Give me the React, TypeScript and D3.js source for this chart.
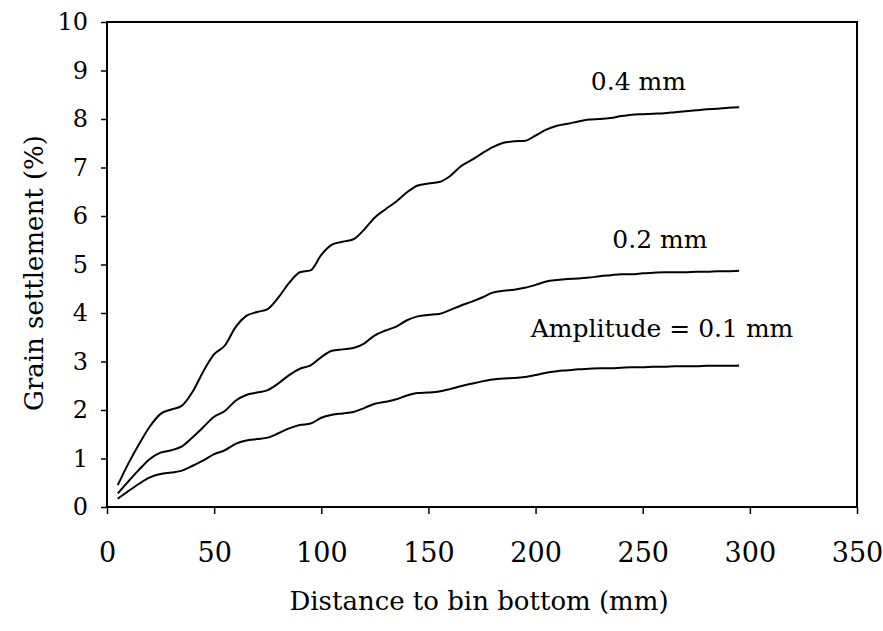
import { useEffect, useRef } from 'react'
import * as d3 from 'd3'

// distance to bin bottom (mm), every 5 mm
const distance = [
  5, 10, 15, 20, 25, 30, 35, 40, 45, 50, 55, 60, 65, 70, 75, 80, 85, 90, 95, 100,
  105, 110, 115, 120, 125, 130, 135, 140, 145, 150, 155, 160, 165, 170, 175, 180, 185, 190, 195, 200,
  205, 210, 215, 220, 225, 230, 235, 240, 245, 250, 255, 260, 265, 270, 275, 280, 285, 290, 295,
]

const amp04 = [
  0.45, 0.9, 1.3, 1.66, 1.92, 2.01, 2.09, 2.38, 2.8, 3.15, 3.33, 3.71, 3.94, 4.02, 4.08, 4.32, 4.62, 4.84, 4.88, 5.2,
  5.41, 5.47, 5.52, 5.72, 5.97, 6.14, 6.3, 6.49, 6.63, 6.67, 6.7, 6.82, 7.02, 7.15, 7.29, 7.42, 7.51, 7.54, 7.55, 7.66,
  7.78, 7.86, 7.9, 7.95, 7.99, 8.0, 8.02, 8.06, 8.09, 8.1, 8.11, 8.12, 8.14, 8.16, 8.18, 8.2, 8.21, 8.23, 8.24,
]

const amp02 = [
  0.28, 0.53, 0.77, 0.99, 1.12, 1.17, 1.25, 1.44, 1.65, 1.86, 1.98, 2.19, 2.31, 2.36, 2.41, 2.55, 2.72, 2.85, 2.92, 3.09,
  3.22, 3.25, 3.28, 3.37, 3.54, 3.64, 3.72, 3.85, 3.93, 3.96, 3.98, 4.06, 4.15, 4.23, 4.32, 4.42, 4.46, 4.48, 4.52, 4.58,
  4.65, 4.68, 4.7, 4.71, 4.73, 4.76, 4.78, 4.8, 4.8, 4.82, 4.83, 4.84, 4.84, 4.84, 4.85, 4.85, 4.86, 4.86, 4.87,
]

const amp01 = [
  0.17, 0.33, 0.48, 0.61, 0.68, 0.71, 0.75, 0.85, 0.96, 1.09, 1.17, 1.3, 1.37, 1.4, 1.43, 1.52, 1.62, 1.69, 1.72, 1.84,
  1.9, 1.93, 1.96, 2.04, 2.13, 2.17, 2.22, 2.3, 2.35, 2.36, 2.38, 2.43, 2.49, 2.54, 2.59, 2.63, 2.65, 2.66, 2.68, 2.72,
  2.77, 2.8, 2.82, 2.84, 2.85, 2.86, 2.86, 2.87, 2.88, 2.88, 2.89, 2.89, 2.9, 2.9, 2.9, 2.91, 2.91, 2.91, 2.92,
]

const xTicks = [0, 50, 100, 150, 200, 250, 300, 350]
const yTicks = [0, 1, 2, 3, 4, 5, 6, 7, 8, 9, 10]

// curve labels, placed in data units
const curveLabels = [
  { text: '0.4 mm', x: 248, y: 8.6 },
  { text: '0.2 mm', x: 258, y: 5.35 },
  { text: 'Amplitude = 0.1 mm', x: 259, y: 3.5 },
]

const series = [amp04, amp02, amp01]

const FONT = "'DejaVu Serif', 'Liberation Serif', serif"

export default function App() {
  const svgRef = useRef<SVGSVGElement | null>(null)
  const width = 883
  const height = 631

  useEffect(() => {
    if (!svgRef.current) return
    const margin = { top: 22, right: 26, bottom: 124, left: 107 }
    const innerWidth = width - margin.left - margin.right
    const innerHeight = height - margin.top - margin.bottom

    const svg = d3.select(svgRef.current)
    svg.selectAll('*').remove()
    svg.append('rect').attr('width', width).attr('height', height).attr('fill', '#fff')

    const g = svg.append('g').attr('transform', `translate(${margin.left},${margin.top})`)

    const x = d3.scaleLinear().domain([0, 350]).range([0, innerWidth])
    const y = d3.scaleLinear().domain([0, 10]).range([innerHeight, 0])

    // frame
    g.append('rect')
      .attr('width', innerWidth)
      .attr('height', innerHeight)
      .attr('fill', 'none')
      .attr('stroke', '#000')
      .attr('stroke-width', 2)

    const yAxis = g.append('g')
      .call(d3.axisLeft(y).tickValues(yTicks).tickSize(6).tickPadding(13).tickFormat(d3.format('d')))
    yAxis.select('.domain').remove()
    yAxis.selectAll('line').attr('stroke', '#000').attr('stroke-width', 1.5)
    yAxis.selectAll('text')
      .style('font-family', FONT)
      .style('font-size', '24px')
      .attr('fill', '#000')

    const xAxis = g.append('g')
      .attr('transform', `translate(0,${innerHeight})`)
      .call(d3.axisBottom(x).tickValues(xTicks).tickSize(7).tickPadding(29).tickFormat(d3.format('d')))
    xAxis.select('.domain').remove()
    xAxis.selectAll('line').attr('stroke', '#000').attr('stroke-width', 1.5)
    xAxis.selectAll('text')
      .style('font-family', FONT)
      .style('font-size', '27px')
      .attr('fill', '#000')

    const line = d3.line<number>()
      .x((_, i) => x(distance[i]))
      .y(d => y(d))
      .curve(d3.curveMonotoneX)

    g.selectAll('.curve')
      .data(series)
      .join('path')
      .attr('class', 'curve')
      .attr('d', d => line(d))
      .attr('fill', 'none')
      .attr('stroke', '#000')
      .attr('stroke-width', 2)

    g.selectAll('.clabel')
      .data(curveLabels)
      .join('text')
      .attr('class', 'clabel')
      .attr('x', d => x(d.x))
      .attr('y', d => y(d.y))
      .attr('text-anchor', 'middle')
      .style('font-family', FONT)
      .style('font-size', '25px')
      .attr('fill', '#000')
      .text(d => d.text)

    svg.append('text')
      .attr('x', margin.left + innerWidth / 2 - 3)
      .attr('y', 610)
      .attr('text-anchor', 'middle')
      .style('font-family', FONT)
      .style('font-size', '26px')
      .attr('fill', '#000')
      .text('Distance to bin bottom (mm)')

    svg.append('text')
      .attr('transform', `translate(43,273) rotate(-90)`)
      .attr('text-anchor', 'middle')
      .style('font-family', FONT)
      .style('font-size', '26px')
      .attr('fill', '#000')
      .text('Grain settlement (%)')
  }, [])

  return (
    <div style={{ position: 'absolute', left: 0, top: 0 }}>
      <svg ref={svgRef} width={width} height={height} style={{ display: 'block' }} />
    </div>
  )
}
